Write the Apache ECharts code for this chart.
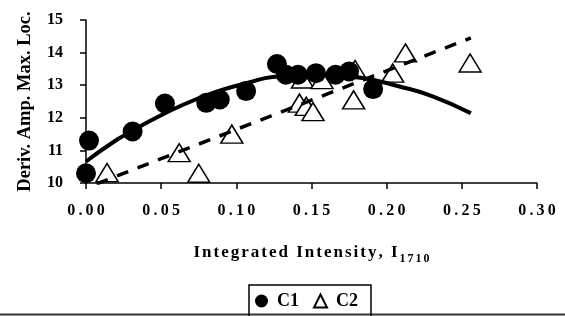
<!DOCTYPE html>
<html>
<head>
<meta charset="utf-8">
<script src="https://cdn.jsdelivr.net/npm/echarts@6/dist/echarts.min.js"></script>
<style>
  html, body { margin: 0; padding: 0; background: #fff; }
  #chart { width: 565px; height: 316px; }
</style>
</head>
<body>
<div id="chart"></div>
<script>
// C1 - filled circles
const c1X = [0.000, 0.002, 0.031, 0.0525, 0.080, 0.089, 0.1065, 0.127, 0.133, 0.141, 0.153, 0.166, 0.175, 0.191];
const c1Y = [10.30, 11.30, 11.58, 12.44, 12.46, 12.56, 12.82, 13.65, 13.32, 13.32, 13.37, 13.32, 13.42, 12.88];

// C2 - open triangles
const c2X = [0.014, 0.062, 0.075, 0.097, 0.142, 0.1465, 0.151, 0.144, 0.157, 0.178, 0.179, 0.204, 0.2125, 0.2555];
const c2Y = [10.32, 10.93, 10.30, 11.50, 12.45, 12.35, 12.19, 13.19, 13.17, 12.55, 13.48, 13.37, 13.99, 13.68];

// trend lines
const c1TrendX = [0.000, 0.018, 0.031, 0.0425, 0.0646, 0.0868, 0.109, 0.124, 0.155, 0.184, 0.2085, 0.2306, 0.256];
const c1TrendY = [10.66, 11.25, 11.60, 11.90, 12.40, 12.80, 13.09, 13.25, 13.32, 13.22, 12.96, 12.66, 12.14];
const c2TrendX = [0.007, 0.256];
const c2TrendY = [9.97, 14.45];

const xTicks = [0, 0.05, 0.10, 0.15, 0.20, 0.25, 0.30];
const yTicks = [10, 11, 12, 13, 14, 15];

const serif = '"Liberation Serif", "Times New Roman", serif';
const pairs = (xs, ys) => xs.map((x, i) => [x, ys[i]]);
// letter-spaced text: one rich token per character
const spaced = (s, style) => s.split('').map(ch => '{' + style + '|' + ch + '}').join('');

const chart = echarts.init(document.getElementById('chart'));

const option = {
    animation: false,
    grid: { left: 86, right: 28, top: 20, bottom: 133 },
    legend: {
        data: [
            { name: 'C1', icon: 'circle' },
            { name: 'C2', icon: 'triangle' }
        ],
        left: 249,
        top: 285,
        itemWidth: 13,
        itemHeight: 13,
        itemGap: 14,
        padding: [7, 13, 10, 6],
        borderColor: '#000',
        borderWidth: 1.5,
        textStyle: {
            fontFamily: serif, fontWeight: 'bold', fontSize: 18, color: '#000',
            padding: [0, 0, 0, 4]
        }
    },
    xAxis: {
        type: 'value',
        min: xTicks[0],
        max: xTicks[xTicks.length - 1],
        interval: 0.05,
        splitLine: { show: false },
        axisLine: { lineStyle: { color: '#000', width: 1.5 } },
        axisTick: { length: 6, lineStyle: { color: '#000', width: 1.5 } },
        axisLabel: {
            color: '#000',
            fontFamily: serif,
            fontWeight: 'bold',
            fontSize: 16,
            margin: 20,
            // thin spaces between the characters
            formatter: v => v.toFixed(2).split('').join('\u2009')
        },
        name: spaced('Integrated Intensity, I', 'a') + spaced('1710', 's'),
        nameLocation: 'middle',
        nameGap: 57,
        nameTextStyle: {
            fontFamily: serif,
            fontWeight: 'bold',
            fontSize: 17,
            rich: {
                a: { fontFamily: serif, fontWeight: 'bold', fontSize: 17, color: '#000', padding: [0, 1, 0, 1] },
                s: { fontFamily: serif, fontWeight: 'bold', fontSize: 12, color: '#000', padding: [13, 1, 0, 1] }
            }
        }
    },
    yAxis: {
        type: 'value',
        min: yTicks[0],
        max: yTicks[yTicks.length - 1],
        interval: 1,
        splitLine: { show: false },
        axisLine: { show: true, lineStyle: { color: '#000', width: 1.5 } },
        axisTick: { show: true, length: 6, lineStyle: { color: '#000', width: 1.5 } },
        axisLabel: {
            color: '#000',
            fontFamily: serif,
            fontWeight: 'bold',
            fontSize: 16,
            margin: 23
        },
        name: 'Deriv. Amp. Max. Loc.',
        nameLocation: 'middle',
        nameGap: 51,
        nameTextStyle: { fontFamily: serif, fontWeight: 'bold', fontSize: 18.5, color: '#000' }
    },
    series: [
        {
            name: 'C2',
            type: 'scatter',
            data: pairs(c2X, c2Y),
            symbol: 'triangle',
            symbolSize: [22, 18],
            itemStyle: { color: '#fff', borderColor: '#000', borderWidth: 1.5, opacity: 1 },
            z: 2
        },
        {
            name: 'C1',
            type: 'scatter',
            data: pairs(c1X, c1Y),
            symbol: 'circle',
            symbolSize: 20,
            itemStyle: { color: '#000', opacity: 1 },
            z: 3
        },
        {
            name: 'C1 trend',
            type: 'line',
            data: pairs(c1TrendX, c1TrendY),
            smooth: true,
            symbol: 'none',
            lineStyle: { color: '#000', width: 4 },
            z: 4
        },
        {
            name: 'C2 trend',
            type: 'line',
            data: pairs(c2TrendX, c2TrendY),
            symbol: 'none',
            lineStyle: { color: '#000', width: 3.5, type: [12, 10] },
            z: 4
        }
    ],
    graphic: [
        {
            type: 'line',
            shape: { x1: 0, y1: 314.5, x2: 565, y2: 314.5 },
            style: { stroke: '#333', lineWidth: 2 }
        }
    ]
};

chart.setOption(option);
</script>
</body>
</html>
